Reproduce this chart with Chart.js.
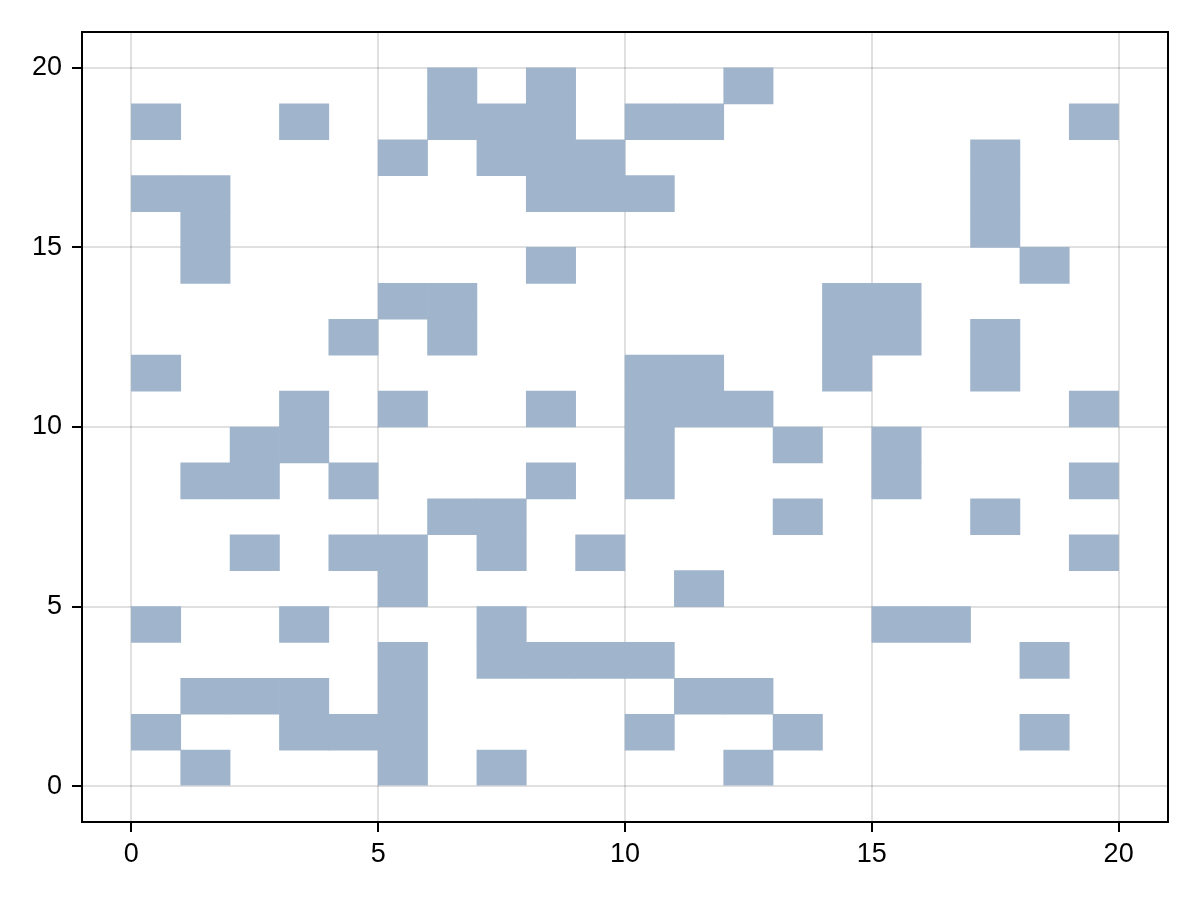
<!DOCTYPE html>
<html>
<head>
<meta charset="utf-8">
<script src="https://cdn.jsdelivr.net/npm/chart.js@4"></script>
<style>
  body { margin: 0; background: #fff; }
</style>
</head>
<body>
<canvas id="grid" width="1200" height="900"></canvas>
<script>
// filled cells, one list per row: rowCells[y] holds the x of every filled cell in that row
const rowCells = [
  [1, 5, 7, 12],
  [0, 3, 4, 5, 10, 13, 18],
  [1, 2, 3, 5, 11, 12],
  [5, 7, 8, 9, 10, 18],
  [0, 3, 7, 15, 16],
  [5, 11],
  [2, 4, 5, 7, 9, 19],
  [6, 7, 13, 17],
  [1, 2, 4, 8, 10, 15, 19],
  [2, 3, 10, 13, 15],
  [3, 5, 8, 10, 11, 12, 19],
  [0, 10, 11, 14, 17],
  [4, 6, 14, 15, 17],
  [5, 6, 14, 15],
  [1, 8, 18],
  [1, 17],
  [0, 1, 8, 9, 10, 17],
  [5, 7, 8, 9, 17],
  [0, 3, 6, 7, 8, 10, 11, 19],
  [6, 8, 12]
];
const xTicks = [0, 5, 10, 15, 20];
const yTicks = [0, 5, 10, 15, 20];

const cellColor = "rgb(160,181,204)";
const gridColor = "rgba(0,0,0,0.12)";

// each cell is a floating bar from y to y+1, centred in x..x+1
const cells = [];
rowCells.forEach((xs, y) => {
  xs.forEach(x => cells.push({ x: x + 0.5, y: [y, y + 1] }));
});

const frame = {
  id: "frame",
  afterDraw(chart) {
    const { ctx, chartArea: a } = chart;
    ctx.save();
    ctx.strokeStyle = "#000";
    ctx.lineWidth = 2;
    ctx.strokeRect(a.left, a.top, a.right - a.left, a.bottom - a.top);
    ctx.restore();
  }
};

const tickFont = { family: "'Liberation Sans', Arial, sans-serif", size: 27 };

new Chart(document.getElementById("grid"), {
  type: "bar",
  data: {
    datasets: [{
      data: cells,
      backgroundColor: cellColor,
      borderWidth: 0,
      barPercentage: 1,
      categoryPercentage: 1
    }]
  },
  options: {
    responsive: false,
    animation: false,
    layout: { padding: { top: 32, right: 32, left: 0, bottom: 0 } },
    plugins: { legend: { display: false }, tooltip: { enabled: false } },
    scales: {
      x: {
        type: "linear",
        min: -1, max: 21,
        offset: false,
        grid: { offset: false, color: gridColor, lineWidth: 2, tickLength: 10, tickColor: "#000", tickWidth: 2 },
        border: { display: false },
        afterBuildTicks: s => { s.ticks = xTicks.map(v => ({ value: v })); },
        afterFit: s => { s.height = 78; },
        ticks: { color: "#000", font: tickFont, padding: 6, maxRotation: 0 }
      },
      y: {
        type: "linear",
        min: -1, max: 21,
        grid: { color: gridColor, lineWidth: 2, tickLength: 10, tickColor: "#000", tickWidth: 2 },
        border: { display: false },
        afterBuildTicks: s => { s.ticks = yTicks.map(v => ({ value: v })); },
        afterFit: s => { s.width = 82; },
        ticks: { color: "#000", font: tickFont, padding: 10 }
      }
    }
  },
  plugins: [frame]
});
</script>
</body>
</html>
